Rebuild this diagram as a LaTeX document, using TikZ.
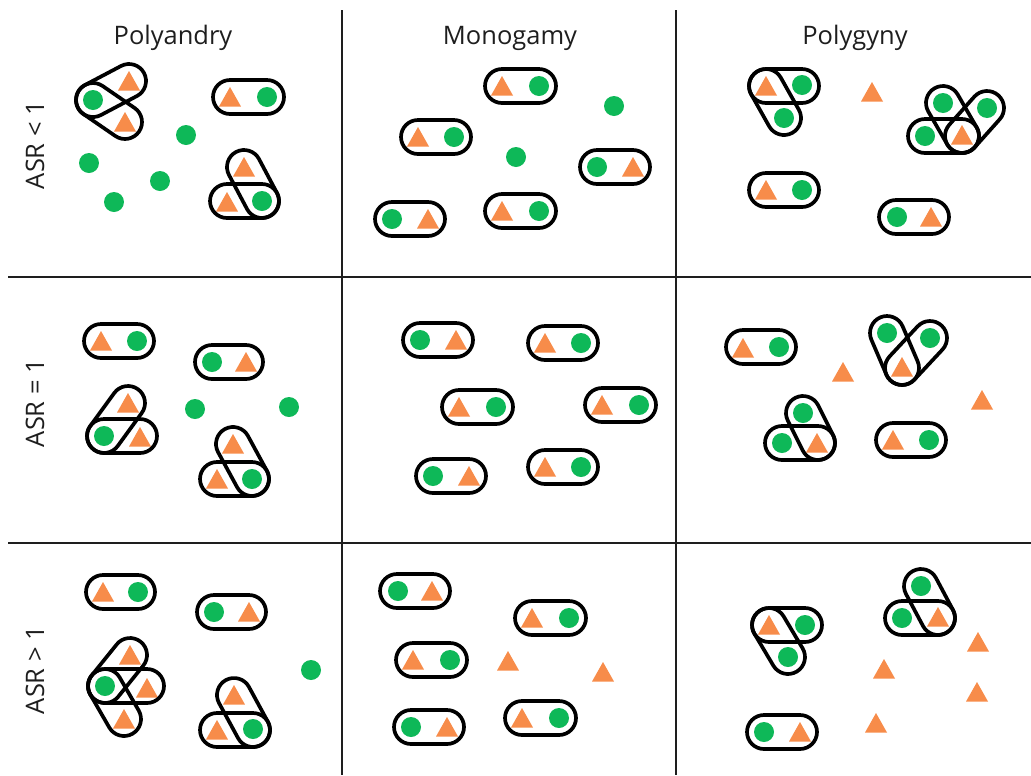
\documentclass[tikz,border=0pt]{standalone}
\usepackage{fontspec}
\setmainfont{Open Sans}
\usepackage{xcolor}
\usepackage{tikz}
\usetikzlibrary{calc}

\definecolor{femgreen}{RGB}{14,184,88}
\definecolor{maleorange}{RGB}{247,140,74}
\definecolor{inkgray}{RGB}{30,30,30}

\newcommand\fem[1]{\fill[femgreen] (#1) circle[radius=0.2cm];}
\newcommand\mal[1]{\fill[maleorange] (#1) ++(0,-10) -- ++(11,19.5) -- ++(-22,0) -- cycle;}
\newcommand\bond[2]{\draw[bond] let \p1=(#1), \p2=(#2),
    \n1={atan2(\y2-\y1,\x2-\x1)}, \n2={\n1+90}, \n3={\n1-90} in
    ($(\p1)+(\n2:0.34cm)$) -- ($(\p2)+(\n2:0.34cm)$)
    arc[start angle=\n2, delta angle=-180, radius=0.34cm]
    -- ($(\p1)+(\n3:0.34cm)$)
    arc[start angle=\n3, delta angle=-180, radius=0.34cm] -- cycle;}

\begin{document}
\begin{tikzpicture}[x=0.02cm,y=-0.02cm,
    bond/.style={draw=black,line width=2.1pt,line join=round},
    grid/.style={draw=inkgray,line width=1.5pt},
    title/.style={font=\fontsize{14.5}{17}\selectfont,text=inkgray,inner sep=0pt}]
             \useasboundingbox (0,0) rectangle (1031,775);

             \draw[grid] (342,10) -- (342,775);
             \draw[grid] (676,10) -- (676,775);
             \draw[grid] (8,277) -- (1031,277);
             \draw[grid] (8,543) -- (1031,543);

             \node[title] (polyandry) at (173,38) {Polyandry};
             \node[title] (monogamy) at (510,38) {Monogamy};
             \node[title] (polygyny) at (855,38) {Polygyny};
             \node[title,rotate=90] (asrlow) at (35,145) {ASR < 1};
             \node[title,rotate=90] (asreq) at (35,403) {ASR = 1};
             \node[title,rotate=90] (asrhigh) at (35,670) {ASR > 1};

             % polyandry
             \fem{93,100} \mal{129,81} \mal{125,122}
             \bond{93,100}{129,81} \bond{93,100}{125,122}
             \mal{230,97} \fem{267,97} \bond{230,97}{267,97}
             \fem{186,135} \fem{89,163} \fem{160,181} \fem{114,202}
             \mal{244,167} \mal{227,202} \fem{262,201}
             \bond{227,201}{262,201} \bond{244,167}{262,201}

             \mal{101,341} \fem{137,341} \bond{101,341}{137,341}
             \fem{212,362} \mal{246,362} \bond{212,362}{246,362}
             \mal{128,403} \fem{104,436} \mal{140,437}
             \bond{104,436}{128,403} \bond{104,436}{140,436}
             \fem{195,409} \fem{289,407}
             \mal{233,444} \mal{217,479} \fem{252,479}
             \bond{217,479}{252,479} \bond{233,444}{252,479}

             \mal{103,592} \fem{138,592} \bond{103,592}{138,592}
             \fem{214,612} \mal{249,612} \bond{214,612}{249,612}
             \fem{105,686} \mal{130,655} \mal{147,688} \mal{124,719}
             \bond{105,686}{130,655} \bond{105,686}{147,686} \bond{105,686}{124,719}
             \fem{311,670}
             \mal{234,695} \mal{217,730} \fem{253,729}
             \bond{217,730}{253,730} \bond{234,695}{253,730}

             % monogamy
             \mal{502,86} \fem{539,86} \bond{502,86}{539,86}
             \mal{418,137} \fem{454,137} \bond{418,137}{454,137}
             \fem{614,106} \fem{516,157}
             \fem{597,167} \mal{633,167} \bond{597,167}{633,167}
             \fem{392,219} \mal{428,219} \bond{392,219}{428,219}
             \mal{502,211} \fem{539,211} \bond{502,211}{539,211}

             \fem{420,340} \mal{456,340} \bond{420,340}{456,340}
             \mal{545,343} \fem{581,343} \bond{545,343}{581,343}
             \mal{459,407} \fem{496,407} \bond{459,407}{496,407}
             \mal{602,405} \fem{639,405} \bond{602,405}{639,405}
             \fem{433,476} \mal{469,476} \bond{433,476}{469,476}
             \mal{545,467} \fem{581,467} \bond{545,467}{581,467}

             \fem{398,591} \mal{432,591} \bond{397,591}{433,591}
             \mal{532,618} \fem{569,618} \bond{532,618}{569,618}
             \mal{413,660} \fem{450,660} \bond{413,660}{450,660}
             \mal{508,661} \mal{603,672}
             \fem{411,727} \mal{447,727} \bond{411,727}{447,727}
             \mal{522,718} \fem{559,718} \bond{522,718}{559,718}

             % polygyny
             \mal{766,86} \fem{802,85} \fem{784,118}
             \bond{766,86}{802,86} \bond{766,86}{784,118}
             \mal{872,92}
             \fem{943,103} \fem{987,108} \fem{925,136} \mal{962,135}
             \bond{925,136}{962,136} \bond{943,103}{962,136} \bond{987,108}{962,136}
             \mal{766,190} \fem{802,190} \bond{766,190}{802,190}
             \fem{897,217} \mal{931,217} \bond{896,217}{932,217}

             \mal{743,348} \fem{779,347} \bond{743,347}{779,347}
             \mal{843,372}
             \fem{887,333} \fem{930,338} \mal{902,367}
             \bond{887,333}{902,368} \bond{930,338}{902,368}
             \mal{982,400}
             \fem{803,413} \fem{782,443} \mal{817,443}
             \bond{782,443}{818,443} \bond{803,413}{818,443}
             \mal{893,440} \fem{929,440} \bond{893,440}{929,440}

             \mal{769,625} \fem{805,625} \fem{788,657}
             \bond{769,625}{805,625} \bond{769,625}{788,657}
             \fem{921,586} \fem{902,618} \mal{938,617}
             \bond{902,618}{938,618} \bond{921,586}{938,618}
             \mal{978,642} \mal{884,669} \mal{977,692} \mal{876,723}
             \fem{764,732} \mal{800,732} \bond{764,732}{800,732}
             \end{tikzpicture}
\end{document}
